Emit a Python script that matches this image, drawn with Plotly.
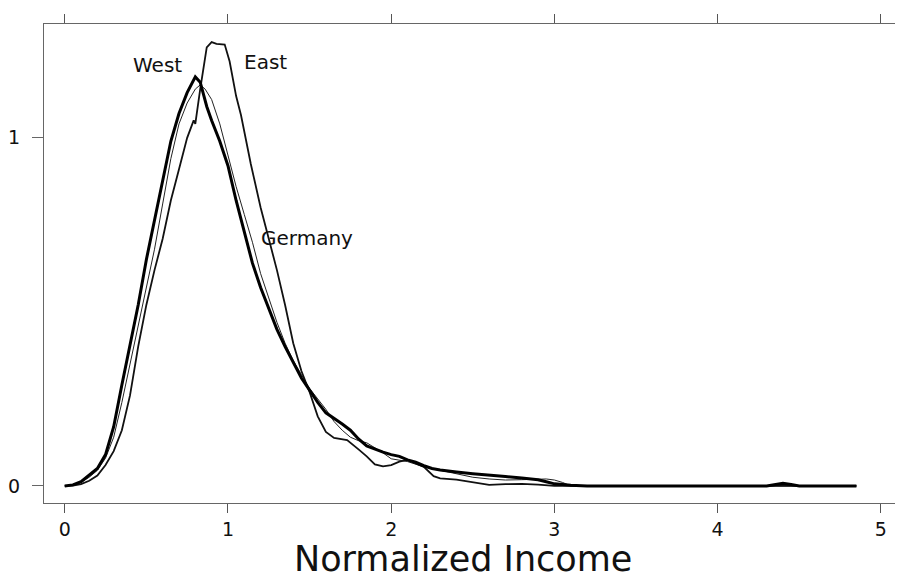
import plotly.graph_objects as go

# ---- data ----
west_x = [0, 0.05, 0.1, 0.15, 0.2, 0.25, 0.3, 0.35, 0.4, 0.45, 0.5, 0.55, 0.6, 0.65, 0.7, 0.75,
          0.8, 0.83, 0.87, 0.9, 0.95, 1.0, 1.05, 1.1, 1.15, 1.2, 1.25, 1.3, 1.35, 1.4, 1.45, 1.5,
          1.55, 1.6, 1.65, 1.7, 1.75, 1.8, 1.85, 1.9, 1.95, 2.0, 2.05, 2.1, 2.15, 2.2, 2.25, 2.3,
          2.35, 2.4, 2.5, 2.6, 2.7, 2.8, 2.9, 2.95, 3.0, 3.1, 3.2, 4.3, 4.35, 4.4, 4.45, 4.5, 4.85]
west_y = [0, 0.003, 0.012, 0.03, 0.05, 0.09, 0.17, 0.29, 0.40, 0.52, 0.65, 0.76, 0.87, 0.99, 1.07, 1.13,
          1.175, 1.16, 1.09, 1.05, 0.99, 0.92, 0.82, 0.73, 0.64, 0.57, 0.51, 0.45, 0.40, 0.355, 0.31, 0.275,
          0.24, 0.21, 0.195, 0.178, 0.16, 0.135, 0.115, 0.105, 0.097, 0.09, 0.085, 0.075, 0.068, 0.058, 0.05, 0.046,
          0.042, 0.04, 0.035, 0.032, 0.027, 0.023, 0.018, 0.012, 0.006, 0.002, 0, 0, 0.004, 0.008, 0.004, 0, 0]

east_x = [0, 0.05, 0.1, 0.15, 0.2, 0.25, 0.3, 0.35, 0.4, 0.45, 0.5, 0.55, 0.6, 0.65, 0.7, 0.75,
          0.79, 0.8, 0.83, 0.87, 0.9, 0.93, 0.98, 1.01, 1.05, 1.08, 1.14, 1.2, 1.25, 1.3, 1.35, 1.4,
          1.45, 1.5, 1.55, 1.6, 1.65, 1.7, 1.73, 1.8, 1.85, 1.9, 1.95, 2.0, 2.05, 2.1, 2.15, 2.2,
          2.26, 2.3, 2.4, 2.5, 2.6, 2.7, 2.8, 2.9, 3.0, 4.85]
east_y = [0, 0.001, 0.005, 0.015, 0.03, 0.06, 0.1, 0.16, 0.26, 0.40, 0.52, 0.62, 0.71, 0.82, 0.91, 1.0,
          1.05, 1.04, 1.14, 1.26, 1.275, 1.27, 1.268, 1.22, 1.12, 1.065, 0.925, 0.80, 0.71, 0.62, 0.52, 0.41,
          0.33, 0.27, 0.2, 0.155, 0.138, 0.135, 0.132, 0.105, 0.085, 0.062, 0.056, 0.06, 0.07, 0.075, 0.065, 0.055,
          0.028, 0.022, 0.018, 0.01, 0.003, 0.005, 0.006, 0.004, 0, 0]

germany_x = [0, 0.05, 0.1, 0.15, 0.2, 0.25, 0.3, 0.35, 0.4, 0.45, 0.5, 0.55, 0.6, 0.65, 0.7, 0.75,
             0.8, 0.83, 0.86, 0.9, 0.95, 1.0, 1.05, 1.1, 1.15, 1.2, 1.25, 1.3, 1.35, 1.4, 1.45, 1.5,
             1.55, 1.6, 1.65, 1.7, 1.75, 1.8, 1.85, 1.9, 1.95, 2.0, 2.1, 2.2, 2.3, 2.4, 2.5, 2.6,
             2.7, 2.8, 2.9, 2.95, 3.0, 3.05, 3.1, 4.85]
germany_y = [0, 0.002, 0.01, 0.025, 0.045, 0.08, 0.14, 0.24, 0.35, 0.46, 0.57, 0.68, 0.81, 0.94, 1.04, 1.1,
             1.14, 1.152, 1.14, 1.11, 1.04, 0.95, 0.86, 0.78, 0.70, 0.61, 0.54, 0.47, 0.41, 0.36, 0.32, 0.28,
             0.25, 0.22, 0.185, 0.16, 0.14, 0.13, 0.124, 0.11, 0.095, 0.078, 0.07, 0.055, 0.045, 0.035, 0.025, 0.02,
             0.017, 0.018, 0.02, 0.02, 0.017, 0.01, 0, 0]

x_ticks = [0, 1, 2, 3, 4, 5]
y_ticks = [0, 1]
labels = ["West", "East", "Germany"]
label_x = [0.568, 1.229, 1.19]
label_y = [1.21, 1.218, 0.713]

FONT = "DejaVu Sans, Liberation Sans, Arial, sans-serif"

fig = go.Figure()
fig.add_trace(go.Scatter(x=germany_x, y=germany_y, mode="lines", name="Germany",
                         line=dict(color="#222222", width=1)))
fig.add_trace(go.Scatter(x=east_x, y=east_y, mode="lines", name="East",
                         line=dict(color="#111111", width=1.8)))
fig.add_trace(go.Scatter(x=west_x, y=west_y, mode="lines", name="West",
                         line=dict(color="#000000", width=3)))

for t, xx, yy in zip(labels, label_x, label_y):
    fig.add_annotation(x=xx, y=yy, text=t, showarrow=False,
                       xanchor="left" if t == "Germany" else "center", yanchor="middle",
                       font=dict(family=FONT, size=20, color="#111111"))

fig.add_annotation(x=0.49, y=-0.117, xref="paper", yref="paper", text="Normalized Income",
                   showarrow=False, xanchor="center", yanchor="middle",
                   font=dict(family=FONT, size=35, color="#111111"))

fig.update_layout(
    width=903, height=587,
    margin=dict(l=36, r=12, t=16, b=92),
    paper_bgcolor="white", plot_bgcolor="white",
    showlegend=False,
    font=dict(family=FONT, size=19, color="#111111"),
)
fig.update_xaxes(range=[-0.127, 5.111], tickvals=x_ticks, ticktext=[str(v) for v in x_ticks],
                 ticks="outside", ticklen=9, tickwidth=1, tickcolor="#555555",
                 showline=True, linecolor="#666666", linewidth=1, mirror="ticks",
                 showgrid=False, zeroline=False, tickfont=dict(size=19), automargin=False)
fig.update_yaxes(range=[-0.049, 1.327], tickvals=y_ticks, ticktext=[str(v) for v in y_ticks],
                 ticks="outside", ticklen=11, tickwidth=1, tickcolor="#666666",
                 showline=True, linecolor="#666666", linewidth=1, mirror=True,
                 showgrid=False, zeroline=False, tickfont=dict(size=19), ticklabelstandoff=8,
                 automargin=False)

fig.write_html("out.html")
